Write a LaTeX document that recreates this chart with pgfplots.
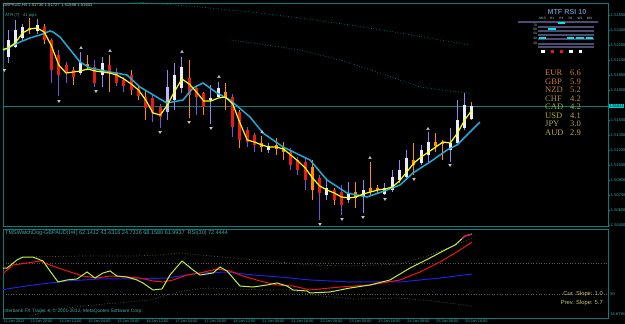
\documentclass[border=0pt]{standalone}
\usepackage{pgfplots}
\pgfplotsset{compat=1.18}
\usepackage{fontspec}
\setmainfont{Liberation Sans}
\newfontfamily\cfont{Liberation Serif}
\newcommand\fs[1]{\fontsize{#1}{#1}\selectfont}
\definecolor{frame}{RGB}{0,128,128}
\definecolor{pricetxt}{RGB}{60,170,170}
\definecolor{lav}{RGB}{150,130,240}
\definecolor{purp}{RGB}{120,80,210}
\definecolor{bodyw}{RGB}{235,235,255}
\definecolor{bodyl}{RGB}{190,180,255}
\definecolor{orng}{RGB}{255,140,0}
\definecolor{redb}{RGB}{235,25,25}
\definecolor{maline}{RGB}{30,170,220}
\definecolor{yel}{RGB}{255,255,0}
\definecolor{frac}{RGB}{200,200,200}
\definecolor{rsig}{RGB}{190,240,60}
\definecolor{rsir}{RGB}{240,20,20}
\definecolor{rsib}{RGB}{30,30,230}
\definecolor{band}{RGB}{100,100,60}
\definecolor{lvl}{RGB}{90,90,90}
\definecolor{slope}{RGB}{200,200,100}
\definecolor{mtf}{RGB}{100,130,170}
\definecolor{mtfgrid}{RGB}{75,75,115}
\definecolor{cyanbar}{RGB}{0,230,230}
\definecolor{hdr}{RGB}{170,200,200}
\begin{document}
\begin{tikzpicture}
\useasboundingbox (0,0) rectangle (625pt,324pt);
\fill[black] (0,0) rectangle (625pt,324pt);

% ---------------- main price panel ----------------
\begin{axis}[
  at={(3pt,98pt)}, anchor=south west, scale only axis,
  width=605pt, height=223pt,
  xmin=0.31, xmax=83.76, ymin=1.5044, ymax=1.5267,
  axis line style={draw=frame, line width=0.8pt},
  xtick=\empty, scaled y ticks=false,
  ytick={1.5255,1.5240,1.5225,1.5210,1.5195,1.5180,1.5150,1.5135,1.5120,1.5105,1.5090,1.5075,1.5060,1.5045},
  yticklabels={1.52550,1.52400,1.52250,1.52100,1.51950,1.51800,1.51500,1.51350,1.51200,1.51050,1.50900,1.50750,1.50600,1.50450},
  ytick pos=right, yticklabel pos=right, tick align=outside, major tick length=2pt,
  tick style={draw=frame, line width=0.5pt},
  yticklabel style={font={\fs{4}}, text=pricetxt, inner sep=0.8pt},
  unbounded coords=jump, clip=true,
]
% envelope dotted lines
\addplot[frame, dotted, line width=0.7pt] coordinates {(13.69,1.5270)(20.59,1.5267)(27.48,1.5263)(34.38,1.5258)(41.28,1.5252)(48.17,1.5245)(55.07,1.5237)(60.59,1.5230)(64.72,1.5225)};
\addplot[frame, dotted, line width=0.7pt] coordinates {(31.62,1.5230)(35.76,1.5226)(41.28,1.5220)(46.79,1.5210)(52.31,1.5197)(57.83,1.5183)(61.97,1.5179)(64.72,1.5177)};
% current price line
\addplot[frame, line width=0.6pt] coordinates {(0.31,1.5164)(83.76,1.5164)};
% wicks: bullish
\addplot[lav, line width=1pt, line cap=butt] coordinates {
(1,1.5240)(1,1.5207)(1,nan)(2,1.5250)(2,1.5222)(2,nan)(3,1.5246)(3,1.5230)(3,nan)(5,1.5251)(5,1.5236)(5,nan)
(11,1.5218)(11,1.5195)(11,nan)(14,1.5213)(14,1.5183)(14,nan)(23,1.5200)(23,1.5150)(23,nan)(24,1.5207)(24,1.5160)(24,nan)
(25,1.5213)(25,1.5177)(25,nan)(29,1.5185)(29,1.5146)(29,nan)(30,1.5188)(30,1.5172)(30,nan)(37,1.5127)(37,1.5117)(37,nan)
(45,1.5092)(45,1.5070)(45,nan)(48,1.5088)(48,1.5067)(48,nan)(50,1.5090)(50,1.5057)(50,nan)(53,1.5087)(53,1.5075)(53,nan)
(54,1.5100)(54,1.5078)(54,nan)(55,1.5110)(55,1.5087)(55,nan)(56,1.5120)(56,1.5092)(56,nan)(58,1.5125)(58,1.5105)(58,nan)
(59,1.5138)(59,1.5108)(59,nan)(62,1.5142)(62,1.5108)(62,nan)(63,1.5170)(63,1.5127)(63,nan)(64,1.5177)(64,1.5140)};
% wicks: bearish orange
\addplot[orng, line width=1pt, line cap=butt] coordinates {
(4,1.5252)(4,1.5236)(4,nan)(6,1.5246)(6,1.5226)(6,nan)(10,1.5203)(10,1.5185)(10,nan)(12,1.5215)(12,1.5200)(12,nan)
(15,1.5215)(15,1.5178)(15,nan)(18,1.5200)(18,1.5175)(18,nan)(19,1.5185)(19,1.5170)(19,nan)(20,1.5180)(20,1.5150)(20,nan)
(26,1.5210)(26,1.5152)(26,nan)(28,1.5178)(28,1.5155)(28,nan)(31,1.5187)(31,1.5160)(31,nan)(33,1.5160)(33,1.5122)(33,nan)
(36,1.5134)(36,1.5118)(36,nan)(38,1.5132)(38,1.5115)(38,nan)(39,1.5128)(39,1.5110)(39,nan)(43,1.5110)(43,1.5070)(43,nan)
(46,1.5082)(46,1.5065)(46,nan)(49,1.5088)(49,1.5062)(49,nan)(51,1.5108)(51,1.5075)(51,nan)(52,1.5085)(52,1.5077)(52,nan)
(57,1.5127)(57,1.5095)(57,nan)(60,1.5137)(60,1.5118)(60,nan)(61,1.5130)(61,1.5110)(61,nan)(65,1.5168)(65,1.5150)};
% wicks: bearish purple
\addplot[purp, line width=1pt, line cap=butt] coordinates {
(0,1.5234)(0,1.5206)(0,nan)(7,1.5232)(7,1.5187)(7,nan)(8,1.5220)(8,1.5174)(8,nan)(9,1.5208)(9,1.5187)(9,nan)
(13,1.5210)(13,1.5183)(13,nan)(16,1.5202)(16,1.5184)(16,nan)(17,1.5193)(17,1.5178)(17,nan)(21,1.5175)(21,1.5148)(21,nan)
(22,1.5166)(22,1.5142)(22,nan)(27,1.5185)(27,1.5155)(27,nan)(32,1.5176)(32,1.5133)(32,nan)(34,1.5143)(34,1.5123)(34,nan)
(35,1.5137)(35,1.5118)(35,nan)(40,1.5122)(40,1.5100)(40,nan)(41,1.5113)(41,1.5095)(41,nan)(42,1.5113)(42,1.5080)(42,nan)
(44,1.5095)(44,1.5050)(44,nan)(47,1.5085)(47,1.5055)};
% bodies: bullish white
\addplot[bodyw, line width=3pt, line cap=butt] coordinates {
(1,1.5213)(1,1.5230)(1,nan)(2,1.5223)(2,1.5240)(2,nan)(3,1.5232)(3,1.5243)(3,nan)(5,1.5239)(5,1.5245)(5,nan)
(11,1.5197)(11,1.5208)(11,nan)(14,1.5195)(14,1.5207)(14,nan)(24,1.5170)(24,1.5195)(24,nan)(25,1.5182)(25,1.5203)(25,nan)
(29,1.5170)(29,1.5172)(29,nan)(30,1.5173)(30,1.5182)(30,nan)(37,1.5120)(37,1.5124)(37,nan)(45,1.5075)(45,1.5082)(45,nan)
(48,1.5070)(48,1.5076)(48,nan)(50,1.5073)(50,1.5080)(50,nan)(53,1.5076)(53,1.5082)(53,nan)(54,1.5080)(54,1.5093)(54,nan)
(55,1.5090)(55,1.5100)(55,nan)(56,1.5093)(56,1.5112)(56,nan)(58,1.5107)(58,1.5120)(58,nan)(59,1.5115)(59,1.5128)(59,nan)
(62,1.5120)(62,1.5127)(62,nan)(63,1.5127)(63,1.5150)(63,nan)(64,1.5142)(64,1.5165)(64,nan)(65,1.5151)(65,1.5164)};
\addplot[bodyl, line width=3pt, line cap=butt] coordinates {(23,1.5158)(23,1.5183)};
% bodies: bearish red
\addplot[redb, line width=3pt, line cap=butt] coordinates {
(0,1.5228)(0,1.5218)(0,nan)(6,1.5243)(6,1.5230)(6,nan)(7,1.5230)(7,1.5200)(7,nan)(8,1.5215)(8,1.5195)(8,nan)
(9,1.5205)(9,1.5197)(9,nan)(10,1.5200)(10,1.5193)(10,nan)(13,1.5203)(13,1.5187)(13,nan)(15,1.5205)(15,1.5198)(15,nan)
(16,1.5198)(16,1.5187)(16,nan)(17,1.5190)(17,1.5184)(17,nan)(18,1.5195)(18,1.5180)(18,nan)(19,1.5182)(19,1.5174)(19,nan)
(20,1.5173)(20,1.5162)(20,nan)(21,1.5172)(21,1.5157)(21,nan)(22,1.5163)(22,1.5153)(22,nan)(26,1.5192)(26,1.5175)(26,nan)
(27,1.5182)(27,1.5173)(27,nan)(28,1.5177)(28,1.5163)(28,nan)(32,1.5173)(32,1.5143)(32,nan)(33,1.5158)(33,1.5130)(33,nan)
(34,1.5140)(34,1.5128)(34,nan)(35,1.5135)(35,1.5125)(35,nan)(40,1.5118)(40,1.5105)(40,nan)(41,1.5110)(41,1.5100)(41,nan)
(42,1.5108)(42,1.5090)(42,nan)(44,1.5092)(44,1.5077)(44,nan)(46,1.5080)(46,1.5070)(46,nan)(47,1.5078)(47,1.5065)};
% bodies: bearish orange
\addplot[orng, line width=3pt, line cap=butt] coordinates {
(4,1.5242)(4,1.5240)(4,nan)(12,1.5206)(12,1.5204)(12,nan)(31,1.5178)(31,1.5172)(31,nan)(36,1.5127)(36,1.5123)(36,nan)
(38,1.5125)(38,1.5121)(38,nan)(39,1.5123)(39,1.5118)(39,nan)(43,1.5103)(43,1.5080)(43,nan)(49,1.5078)(49,1.5072)(49,nan)
(51,1.5082)(51,1.5078)(51,nan)(52,1.5082)(52,1.5080)(52,nan)(57,1.5110)(57,1.5105)(57,nan)(60,1.5128)(60,1.5124)(60,nan)
(61,1.5128)(61,1.5126)};
% moving average (cyan)
\addplot[maline, line width=1.5pt] coordinates {(-0.1,1.5218)(1.28,1.5223)(2.66,1.5228)(4.03,1.5232)(5.41,1.5235)(6.79,1.5239)(7.21,1.5238)(8.17,1.5233)(10.93,1.5208)(12.31,1.5202)(15.07,1.5198)(17.41,1.5195)(19.21,1.5183)(21.97,1.5171)(22.93,1.5167)(25.14,1.5170)(26.52,1.5182)(27.9,1.5187)(29.83,1.5177)(31.62,1.5170)(34.38,1.5153)(36.17,1.5137)(38.93,1.5123)(42.66,1.5110)(45.0,1.5090)(47.76,1.5077)(50.52,1.5073)(53.28,1.5080)(55.07,1.5085)(56.86,1.5097)(59.62,1.5110)(61.55,1.5120)(62.93,1.5125)(66.1,1.5148)};
% yellow line
\addplot[yel, line width=1.2pt] coordinates {(0,1.5220)(1,1.5222)(2,1.5227)(3,1.5237)(4,1.5241)(5,1.5242)(6,1.5238)(7,1.5224)(8,1.5205)(9,1.5197)(10,1.5198)(11,1.5199)(12,1.5201)(13,1.5199)(14,1.5198)(15,1.5197)(16,1.5195)(17,1.5191)(18,1.5186)(19,1.5180)(20,1.5170)(21,1.5157)(22,1.5155)(23,1.5165)(24,1.5179)(25,1.5191)(26,1.5186)(27,1.5178)(28,1.5169)(29,1.5169)(30,1.5172)(31,1.5173)(32,1.5166)(33,1.5147)(34,1.5130)(35,1.5128)(36,1.5125)(37,1.5123)(38,1.5123)(39,1.5121)(40,1.5115)(41,1.5109)(42,1.5102)(43,1.5092)(44,1.5084)(45,1.5080)(46,1.5077)(47,1.5073)(48,1.5072)(49,1.5073)(50,1.5076)(51,1.5078)(52,1.5080)(53,1.5081)(54,1.5083)(55,1.5089)(56,1.5098)(57,1.5107)(58,1.5113)(59,1.5118)(60,1.5123)(61,1.5128)(62,1.5127)(63,1.5137)(64,1.5150)(65,1.5160)};
% fractals
\addplot[only marks, mark=triangle*, mark size=1.5pt, mark options={fill=frac, draw=frac}] coordinates {(11.07,1.5222)(15.07,1.5219)(25,1.5218)(30.1,1.5193)(36.04,1.5138)(50.93,1.5112)(58.93,1.5141)};
\addplot[only marks, mark=triangle*, mark size=1.5pt, mark options={fill=frac, draw=frac, rotate=180}] coordinates {(0.5,1.5200)(8.03,1.5169)(13.14,1.5179)(21.97,1.5138)(25.97,1.5148)(29,1.5142)(44.03,1.5046)(47.07,1.5051)(49.97,1.5053)(53,1.5071)(57,1.5091)(61.97,1.5105)};
\end{axis}

% ---------------- indicator panel ----------------
\begin{axis}[
  at={(3pt,6pt)}, anchor=south west, scale only axis,
  width=605pt, height=89pt,
  xmin=0.31, xmax=83.76, ymin=-1, ymax=113.9,
  axis line style={draw=frame, line width=0.8pt},
  xtick={0.31,4,8,12,16,20,24,28,32,36,40,44,48,52,56,60,64},
  xticklabels={11 Jan 2013,13 Jan 20:00,14 Jan 12:00,15 Jan 04:00,15 Jan 20:00,16 Jan 12:00,17 Jan 04:00,17 Jan 20:00,18 Jan 12:00,21 Jan 00:00,21 Jan 16:00,22 Jan 08:00,23 Jan 00:00,23 Jan 16:00,24 Jan 08:00,25 Jan 00:00,25 Jan 16:00},
  xtick pos=bottom, tick align=outside, major tick length=1.5pt,
  tick style={draw=frame, line width=0.5pt},
  xticklabel style={font={\fs{3.8}}, text=pricetxt, anchor=north west, inner sep=0.5pt},
  ytick={30}, yticklabels={30}, extra y ticks={4.2}, extra y tick labels={16.6794},
  ytick pos=right, yticklabel pos=right,
  yticklabel style={font={\fs{4}}, text=pricetxt, inner sep=0.8pt},
  extra y tick style={yticklabel style={font={\fs{4}}, text=pricetxt}},
  clip=true,
]
\addplot[lvl, dotted, line width=0.6pt] coordinates {(0.31,70)(83.76,70)};
\addplot[lvl, dotted, line width=0.6pt] coordinates {(0.31,30)(83.76,30)};
\addplot[band, dotted, line width=0.7pt] coordinates {(2.66,77.7)(11.34,79.0)(18.24,79.0)(21.97,80.3)(24.72,82.9)(27.48,80.3)(32.03,76.5)(36.72,72.6)(39.9,70)(42.66,67.4)(48.17,66.1)(55.07,68.7)(59.21,80.3)(62.66,93.2)(65.0,102.3)};
\addplot[band, dotted, line width=0.7pt] coordinates {(4.03,1.6)(6.79,9.4)(11.34,14.5)(16.03,18.4)(20.59,22.3)(22.93,28.7)(25.14,33.9)(28.45,37.7)(32.03,36.5)(36.72,35.2)(39.9,35.2)(42.93,28.7)(48.59,23.5)(55.07,24.8)(59.62,21.0)(65.0,14.5)};
\addplot[rsib, line width=1pt] coordinates {(-0.1,35.2)(4.45,41.6)(9.14,46.8)(13.69,49.4)(18.24,49.4)(22.93,50.6)(27.48,57.1)(31.21,58.4)(34.79,54.5)(38.52,51.9)(42.66,48.1)(48.17,45.5)(55.07,45.5)(60.59,50.6)(65.0,55.8)};
\addplot[rsir, line width=1pt] coordinates {(-0.1,53.2)(1.69,67.4)(3.62,70)(5.41,72.6)(6.79,67.4)(9.14,59.7)(11.34,53.2)(13.28,50.6)(15.07,53.2)(17.41,51.9)(19.21,50.6)(21.0,46.8)(22.38,45.5)(23.76,48.1)(25.69,54.5)(27.48,57.1)(29.83,62.3)(31.62,59.7)(33.41,53.2)(35.76,46.8)(38.1,41.6)(40.31,40.3)(42.66,35.2)(46.79,39.0)(50.93,41.6)(55.07,48.1)(57.83,58.4)(60.59,71.3)(63.34,86.8)(65.0,97.1)};
\addplot[rsig, line width=1pt] coordinates {(-0.1,63.5)(0.86,63.5)(2.24,73.9)(3.07,77.7)(4.45,77.7)(5.83,72.6)(6.79,59.7)(7.9,45.5)(9.14,48.1)(10.52,49.4)(11.9,58.4)(13.0,50.6)(14.1,57.1)(15.07,59.7)(16.03,53.2)(17.41,51.9)(18.79,48.1)(19.62,44.2)(21.0,35.2)(22.24,36.5)(23.34,54.5)(25.0,72.6)(26.52,61.0)(27.48,54.5)(29.28,57.1)(30.24,64.8)(31.21,59.7)(33.0,40.3)(34.79,39.0)(36.72,41.6)(38.1,44.2)(39.48,40.3)(40.31,35.2)(42.24,33.9)(42.66,31.3)(45.41,32.6)(48.17,37.7)(50.93,41.6)(53.69,48.1)(56.45,63.5)(59.21,76.5)(61.28,86.8)(62.66,93.2)(64.03,104.8)(65.0,107.4)};
\addplot[magenta, line width=1pt] coordinates {(63.6,101.5)(64.03,104.8)(65.0,107.4)};
\end{axis}

% ---------------- MTF RSI widget ----------------
\begin{axis}[
  at={(538pt,271pt)}, anchor=south west, scale only axis,
  width=56pt, height=33pt,
  xmin=0.5, xmax=6.5, ymin=7.8, ymax=81.1,
  axis line style={draw=none}, tick style={draw=none}, major tick length=0pt,
  xtick={1,2,3,4,5,6}, xticklabels={M15,H1,H4,D1,W1,MN},
  xticklabel pos=upper,
  xticklabel style={font={\fs{3.3}}, text=hdr, inner sep=0.6pt},
  ytick={70,61,52,41,30}, yticklabels={70,60,50,40,30},
  yticklabel style={font={\fs{3.3}}, text=hdr, inner sep=0.8pt},
  unbounded coords=jump, clip=false,
]
\addplot[mtfgrid, line width=1.1pt] coordinates {(-1.6,76.7)(6.9,76.7)(0,nan)(0.5,65.6)(6.5,65.6)(0,nan)(0.5,56.7)(6.5,56.7)(0,nan)(0.5,47.8)(6.5,47.8)(0,nan)(0.5,38.9)(6.5,38.9)(0,nan)(0.5,27.8)(6.5,27.8)(0,nan)(0.5,21.1)(6.5,21.1)};
\addplot[cyanbar, line width=1.8pt] coordinates {(0.6,41.1)(1.4,41.1)(1,nan)(1.6,61.1)(2.4,61.1)(2,nan)(2.6,74.4)(3.4,74.4)(3,nan)(3.6,41.1)(4.4,41.1)(4,nan)(4.6,41.1)(5.4,41.1)(5,nan)(5.6,41.1)(6.4,41.1)};
\addplot[only marks, mark=square*, mark size=1.2pt, mark options={fill=white, draw=white}] coordinates {(1,12)(4,12)(5,12)};
\addplot[only marks, mark=square*, mark size=1.2pt, mark options={fill=redb, draw=redb}] coordinates {(2,12)(3,12)};
\end{axis}

% ---------------- texts ----------------
\node[anchor=west, inner sep=0, font={\fs{4.2}}, text=hdr] at (3pt,319pt) {GBPAUD,H4  1.51730 1.51727 1.51588 1.51641};
\node[anchor=west, inner sep=0, font={\fs{4.2}}, text=pricetxt] at (5pt,309pt) {ATR (7) \ \ 41 pips};
\node[anchor=center, inner sep=0, font={\bfseries\fs{7.2}}, text=mtf] at (567pt,312pt) {MTF RSI 10};
\node[anchor=west, inner sep=0.6pt, fill=cyanbar!80!frame, text=black, font={\fs{4}}] at (608.5pt,218pt) {1.51641};

\begin{scope}[every node/.style={anchor=west, inner sep=0, font={\cfont\fs{8.5}}}]
\node[text={rgb,255:red,210;green,130;blue,40}] at (545pt,251pt) {EUR};
\node[text={rgb,255:red,210;green,130;blue,40}] at (570pt,251pt) {6.6};
\node[text={rgb,255:red,200;green,125;blue,45}] at (545pt,242.5pt) {GBP};
\node[text={rgb,255:red,200;green,125;blue,45}] at (570pt,242.5pt) {5.9};
\node[text={rgb,255:red,190;green,135;blue,50}] at (545pt,234pt) {NZD};
\node[text={rgb,255:red,190;green,135;blue,50}] at (570pt,234pt) {5.2};
\node[text={rgb,255:red,175;green,150;blue,50}] at (545pt,225.5pt) {CHF};
\node[text={rgb,255:red,175;green,150;blue,50}] at (570pt,225.5pt) {4.2};
\node[text={rgb,255:red,160;green,175;blue,50}] at (545pt,217pt) {CAD};
\node[text={rgb,255:red,160;green,175;blue,50}] at (570pt,217pt) {4.2};
\node[text={rgb,255:red,185;green,170;blue,50}] at (545pt,208.5pt) {USD};
\node[text={rgb,255:red,185;green,170;blue,50}] at (570pt,208.5pt) {4.1};
\node[text={rgb,255:red,180;green,165;blue,80}] at (545pt,200pt) {JPY};
\node[text={rgb,255:red,180;green,165;blue,80}] at (570pt,200pt) {3.0};
\node[text={rgb,255:red,190;green,170;blue,60}] at (545pt,191.5pt) {AUD};
\node[text={rgb,255:red,190;green,170;blue,60}] at (570pt,191.5pt) {2.9};
\end{scope}

\node[anchor=north west, inner sep=0, font={\fs{5.5}}, text=pricetxt] at (5pt,93.5pt) {TMSWatchDog-GBPAUD(H4) 62.1412 43.4316 24.7316 68.1580 61.9937 \ RSI(30) 72.4444};
\node[anchor=west, inner sep=0, font={\fs{4.8}}, text=pricetxt] at (3pt,13pt) {Interbank FX Trader 4, \textcopyright{} 2001-2012, MetaQuotes Software Corp.};
\node[anchor=east, inner sep=0, font={\fs{5.8}}, text=slope] at (603pt,30pt) {Cur. Slope: 1.0};
\node[anchor=east, inner sep=0, font={\fs{5.8}}, text=slope] at (603pt,21pt) {Prev. Slope: 5.7};
\end{tikzpicture}
\end{document}
